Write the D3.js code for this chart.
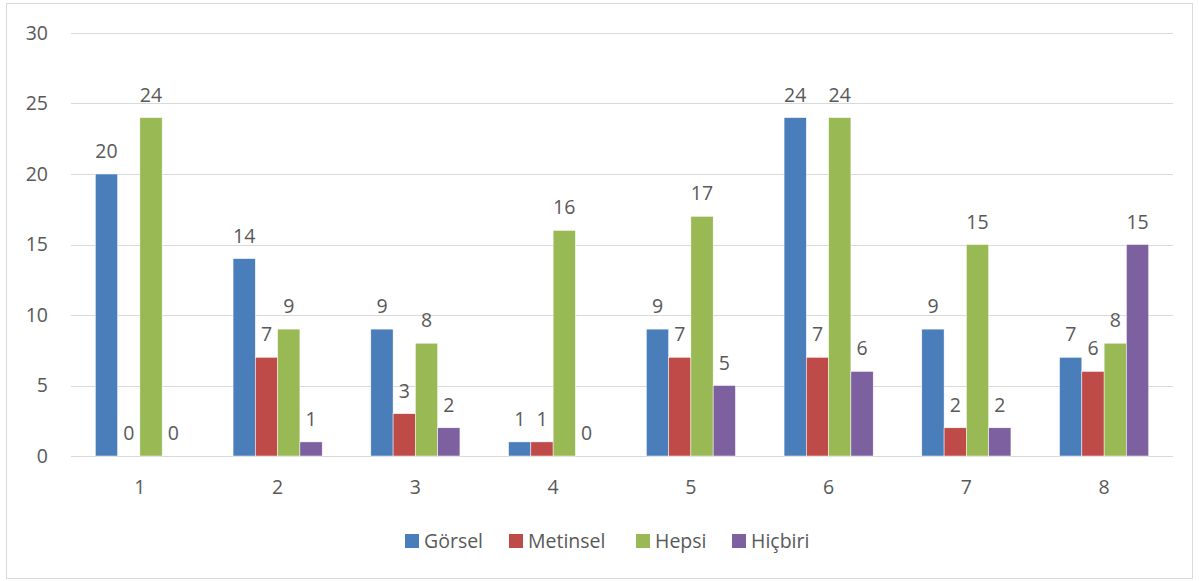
<!DOCTYPE html>
<html><head><meta charset="utf-8">
<script src="https://cdn.jsdelivr.net/npm/d3@7"></script>
<style>body{margin:0;background:#fff}svg{display:block}text{font-family:"Open Sans",sans-serif;fill:#595959}</style>
</head><body><svg id="c" width="1199" height="581"></svg>
<script>
const categories = ["1","2","3","4","5","6","7","8"];
const seriesNames = ["Görsel","Metinsel","Hepsi","Hiçbiri"];
const gorsel   = [20,14,9,1,9,24,9,7];
const metinsel = [0,7,3,1,7,7,2,6];
const hepsi    = [24,9,8,16,17,24,15,8];
const hicbiri  = [0,1,2,0,5,6,2,15];
const yTicks = [0,5,10,15,20,25,30];
const colors = ["#4a7ebb","#be4b48","#98b954","#7d60a0"];

const FS = "19.5px";
const values = [gorsel, metinsel, hepsi, hicbiri];
const svg = d3.select("#c");
svg.append("rect").attr("x",6.5).attr("y",3.5).attr("width",1186).attr("height",575)
  .attr("fill","#fff").attr("stroke","#d9d9d9").attr("stroke-width",1);

const x0 = d3.scaleBand().domain(categories).range([71,1173]).paddingInner(0.353).paddingOuter(0.1765);
const x1 = d3.scaleBand().domain(seriesNames).range([0,x0.bandwidth()]);
const y = d3.scaleLinear().domain([0,30]).range([456,33]);

const grid = svg.append("g");
grid.selectAll("line").data(yTicks).join("line")
  .attr("x1",71).attr("x2",1173).attr("y1",d=>Math.round(y(d))+0.5).attr("y2",d=>Math.round(y(d))+0.5)
  .attr("stroke","#d9d9d9").attr("stroke-width",1);

const yAxis = d3.axisLeft(y).tickValues(yTicks).tickSize(0).tickPadding(0);
const ya = svg.append("g").attr("transform","translate(48,0)").call(yAxis);
ya.select(".domain").remove();
ya.selectAll("text").attr("font-size",FS).attr("fill","#595959").style("font-family","'Open Sans',sans-serif");

const xAxis = d3.axisBottom(x0).tickSize(0).tickPadding(0);
const xa = svg.append("g").attr("transform","translate(0,480)").call(xAxis);
xa.select(".domain").remove();
xa.selectAll("text").attr("font-size",FS).attr("fill","#595959").attr("dy","0.71em").style("font-family","'Open Sans',sans-serif");

const data = [];
categories.forEach((c,i)=>seriesNames.forEach((s,j)=>data.push({c,s,v:values[j][i],col:colors[j]})));

svg.append("g").selectAll("rect").data(data).join("rect")
  .attr("x",d=>x0(d.c)+x1(d.s)).attr("width",x1.bandwidth())
  .attr("y",d=>y(d.v)).attr("height",d=>y(0)-y(d.v))
  .attr("fill",d=>d.col).attr("stroke","#fff").attr("stroke-width",0.5);

svg.append("g").selectAll("text").data(data).join("text")
  .attr("x",d=>x0(d.c)+x1(d.s)+x1.bandwidth()/2).attr("y",d=>y(d.v)-16)
  .attr("text-anchor","middle").attr("font-size",FS).text(d=>d.v);

const legX = [405,509,636,732];
const leg = svg.append("g");
seriesNames.forEach((s,j)=>{
  leg.append("rect").attr("x",legX[j]).attr("y",534).attr("width",14).attr("height",14).attr("fill",colors[j]);
  leg.append("text").attr("x",legX[j]+19).attr("y",548).attr("font-size",FS).text(s);
});
</script></body></html>
